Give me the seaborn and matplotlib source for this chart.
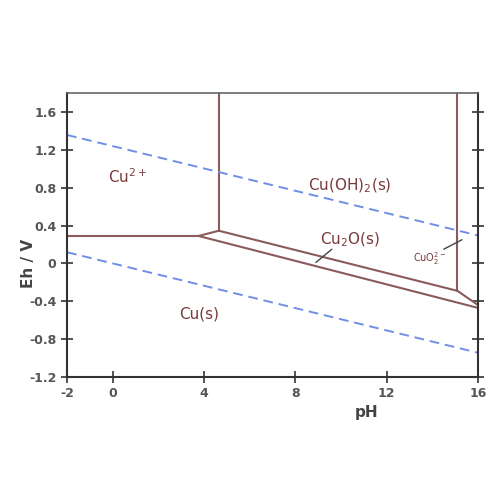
import matplotlib
import matplotlib.pyplot as plt
import seaborn as sns
import numpy as np

matplotlib.use('Agg')

# phase boundaries (pH, Eh)
cu2_cu_ph = [-2, 3.76]
cu2_cu_eh = [0.29, 0.29]
cu2_cu2o_ph = [3.76, 4.65]
cu2_cu2o_eh = [0.29, 0.345]
cu2o_cu_ph = [3.76, 16]
cu2o_cu_eh = [0.29, -0.47]
cuoh_cu2o_ph = [4.65, 15.1]
cuoh_cu2o_eh = [0.345, -0.29]
cuo2_cu2o_ph = [15.1, 16]
cuo2_cu2o_eh = [-0.29, -0.44]
cu2_cuoh_ph = [4.65, 4.65]
cu2_cuoh_eh = [0.345, 1.8]
cuoh_cuo2_ph = [15.1, 15.1]
cuoh_cuo2_eh = [-0.29, 1.8]

# water stability lines
water_ph = [-2, 16]
o2_eh = [1.357, 0.295]
h2_eh = [0.118, -0.944]

xticks = [-2, 0, 4, 8, 12, 16]
yticks = [-1.2, -0.8, -0.4, 0, 0.4, 0.8, 1.2, 1.6]

sns.set_theme(style='white')
plt.rcParams['font.family'] = ['DejaVu Sans']

line_col = '#8a5a5c'
text_col = '#7a3a3c'
water_col = '#6f8fe6'

fig = plt.figure(figsize=(5, 5), dpi=100)
ax = fig.add_axes([0.134, 0.246, 0.822, 0.568])

for xs, ys in [(cu2_cu_ph, cu2_cu_eh), (cu2_cu2o_ph, cu2_cu2o_eh), (cu2o_cu_ph, cu2o_cu_eh),
               (cuoh_cu2o_ph, cuoh_cu2o_eh), (cuo2_cu2o_ph, cuo2_cu2o_eh),
               (cu2_cuoh_ph, cu2_cuoh_eh), (cuoh_cuo2_ph, cuoh_cuo2_eh)]:
    sns.lineplot(x=xs, y=ys, color=line_col, lw=1.5, ax=ax, sort=False, estimator=None)

for ys in [o2_eh, h2_eh]:
    sns.lineplot(x=water_ph, y=ys, color=water_col, lw=1.4, ax=ax, linestyle=(0, (5, 3)),
                 estimator=None)

ax.set_xlim(-2, 16)
ax.set_ylim(-1.2, 1.8)
ax.set_xticks(xticks)
ax.set_xticklabels([str(t) for t in xticks])
ax.set_yticks(yticks)
ax.set_yticklabels(['-1.2', '-0.8', '-0.4', '0', '0.4', '0.8', '1.2', '1.6'])
ax.tick_params(axis='both', direction='inout', length=8, width=1.2, colors='#333333',
               labelsize=9, left=True, bottom=True, right=True)
for lbl in ax.get_xticklabels() + ax.get_yticklabels():
    lbl.set_fontweight('bold')
    lbl.set_color('#555555')

for side in ['left', 'bottom', 'right']:
    ax.spines[side].set_color('#333333')
    ax.spines[side].set_linewidth(1.5)
ax.spines['top'].set_color('#666666')
ax.spines['top'].set_linewidth(1.2)

ax.text(0.66, 0.92, r'Cu$^{2+}$', color=text_col, fontsize=11, ha='center', va='center')
ax.text(10.4, 0.82, r'Cu(OH)$_2$(s)', color=text_col, fontsize=11, ha='center', va='center')
ax.text(10.4, 0.25, r'Cu$_2$O(s)', color=text_col, fontsize=11, ha='center', va='center')
ax.text(3.8, -0.53, 'Cu(s)', color=text_col, fontsize=11, ha='center', va='center')
ax.text(13.9, 0.05, r'CuO$_2^{2-}$', color=text_col, fontsize=7, ha='center', va='center')
ax.plot([9.6, 8.9], [0.15, 0.01], color='#444444', lw=1)
ax.plot([14.5, 15.3], [0.15, 0.25], color='#444444', lw=1)

fig.text(0.734, 0.174, 'pH', fontsize=11, fontweight='bold', color='#444444', ha='center', va='center')
fig.text(0.056, 0.474, 'Eh / V', fontsize=11, fontweight='bold', color='#444444',
         rotation=90, ha='center', va='center')

ax.set_xlabel('')
ax.set_ylabel('')
fig.savefig('out.png', dpi=100)
